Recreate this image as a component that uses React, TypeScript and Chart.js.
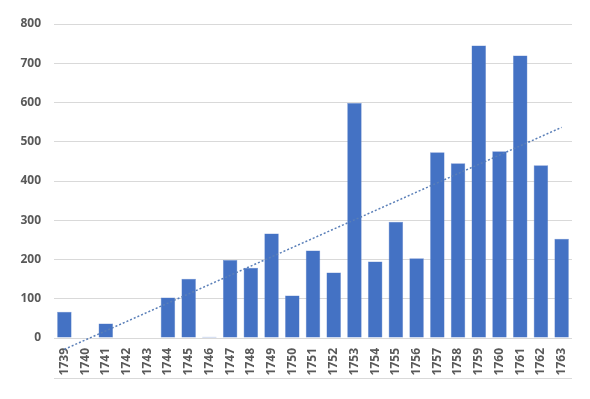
import React, { useEffect, useRef } from "react";
import { Chart, registerables } from "chart.js";

Chart.register(...registerables);

const years = ["1739","1740","1741","1742","1743","1744","1745","1746","1747","1748","1749","1750","1751","1752","1753","1754","1755","1756","1757","1758","1759","1760","1761","1762","1763"];
const values = [67, 0, 37, 0, 0, 103, 151, 3, 199, 179, 266, 108, 223, 167, 599, 195, 296, 203, 473, 445, 745, 476, 720, 440, 253];
const yTicks = [0, 100, 200, 300, 400, 500, 600, 700, 800];

function linearTrend(v: number[]): number[] {
  const n = v.length;
  const mx = (n - 1) / 2;
  const my = v.reduce((a, b) => a + b, 0) / n;
  let num = 0, den = 0;
  v.forEach((y, i) => { num += (i - mx) * (y - my); den += (i - mx) * (i - mx); });
  const slope = num / den;
  return v.map((_, i) => my + slope * (i - mx));
}

const bottomLine = {
  id: "bottomLine",
  afterDraw(chart: any) {
    const x = chart.scales.x;
    const ctx = chart.ctx;
    ctx.save();
    ctx.strokeStyle = "#d9d9d9";
    ctx.lineWidth = 1;
    ctx.beginPath();
    ctx.moveTo(chart.chartArea.left, Math.round(x.bottom) + 0.5);
    ctx.lineTo(chart.chartArea.right, Math.round(x.bottom) + 0.5);
    ctx.stroke();
    ctx.restore();
  },
};

export default function App() {
  const ref = useRef<HTMLCanvasElement>(null);
  useEffect(() => {
    document.body.style.margin = "0";
    const font = { family: "'Open Sans', sans-serif", size: 12, weight: "bold" as const };
    const chart = new Chart(ref.current!, {
      type: "bar",
      data: {
        labels: years,
        datasets: [
          {
            type: "line",
            data: linearTrend(values),
            borderColor: "#5a7fb8",
            borderWidth: 1.5,
            borderDash: [2, 2],
            pointRadius: 0,
            fill: false,
            clip: false,
            order: 0,
          } as any,
          {
            type: "bar",
            data: values,
            backgroundColor: "#4472c4",
            borderColor: "#6f8fcf",
            borderWidth: 0.5,
            categoryPercentage: 1,
            barPercentage: 0.7,
            order: 1,
          },
        ],
      },
      options: {
        animation: false,
        responsive: false,
        maintainAspectRatio: false,
        layout: { padding: { top: 24, right: 18, bottom: 21, left: 0 } },
        plugins: { legend: { display: false }, tooltip: { enabled: false } },
        scales: {
          x: {
            grid: { display: false, drawTicks: false },
            border: { display: false },
            ticks: { color: "#595959", font, minRotation: 90, maxRotation: 90, padding: 10, autoSkip: false },
            afterFit(s: any) { s.height = 40; },
          },
          y: {
            min: 0,
            max: 800,
            afterBuildTicks(s: any) { s.ticks = yTicks.map((v) => ({ value: v })); },
            grid: { color: "#d9d9d9", drawTicks: false },
            border: { display: false },
            ticks: { color: "#595959", font, padding: 13 },
            afterFit(s: any) { s.width = 54; },
          },
        },
      },
      plugins: [bottomLine],
    });
    return () => chart.destroy();
  }, []);
  return <canvas ref={ref} width={590} height={399} style={{ display: "block" }} />;
}
